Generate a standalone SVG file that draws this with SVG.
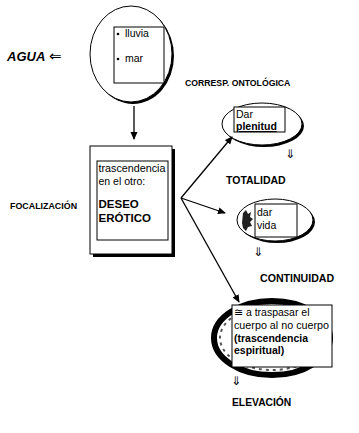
<svg xmlns="http://www.w3.org/2000/svg" width="359" height="433" viewBox="0 0 359 433">
<defs>
<style>
.t{font-family:"Liberation Sans",Arial,sans-serif;font-size:10.5px;fill:#000}
.b{font-weight:bold}
.lab{font-family:"Liberation Sans",Arial,sans-serif;font-weight:bold;fill:#000}
.arr{font-family:"DejaVu Sans",sans-serif;font-size:12px;fill:#000}
.box{fill:#fff;stroke:#000;stroke-width:1}
.ln{stroke:#000;stroke-width:1.3;fill:none}
</style>
<marker id="ah" markerWidth="8" markerHeight="8" refX="7" refY="4" orient="auto" markerUnits="userSpaceOnUse">
<path d="M0,0.5 L8,4 L0,7.5 Z" fill="#000"/>
</marker>
</defs>
<rect width="359" height="433" fill="#fff"/>

<g id="agua">
<text x="7" y="61" class="lab" style="font-size:13px;font-style:italic">AGUA</text>
<text x="49" y="61" class="arr" style="font-size:15px">⇐</text>
</g>

<g id="top-circle">
<ellipse cx="133" cy="56" rx="41" ry="48" fill="#000"/>
<ellipse cx="131" cy="54" rx="41" ry="48" class="box"/>
<rect x="114" y="27" width="50" height="56" class="box"/>
<circle cx="118" cy="34" r="1.3" fill="#000"/>
<text x="125" y="37" class="t">lluvia</text>
<circle cx="118" cy="59" r="1.3" fill="#000"/>
<text x="125" y="62" class="t">mar</text>
</g>

<text x="185" y="86" class="lab" style="font-size:8.7px">CORRESP. ONTOLÓGICA</text>

<g id="center-box">
<rect x="93" y="149" width="82" height="108" fill="#000"/>
<rect x="90" y="146" width="82" height="108" class="box"/>
<rect x="97" y="161" width="71" height="79" class="box"/>
<text x="98.5" y="172" class="t" textLength="67" lengthAdjust="spacingAndGlyphs">trascendencia</text>
<text x="98.5" y="185" class="t">en el otro:</text>
<text x="98.5" y="208" class="t b" style="font-size:11.5px">DESEO</text>
<text x="98.5" y="222" class="t b" style="font-size:11.5px">ERÓTICO</text>
</g>

<text x="10" y="209" class="lab" style="font-size:8.9px">FOCALIZACIÓN</text>

<g id="plenitud">
<ellipse cx="264" cy="126" rx="40" ry="21" fill="#000"/>
<ellipse cx="262" cy="124" rx="40" ry="21" class="box"/>
<rect x="234" y="107" width="51" height="25" class="box"/>
<text x="236" y="118" class="t">Dar</text>
<text x="236" y="130" class="t b" style="text-decoration:underline">plenitud</text>
</g>
<text x="285" y="158" class="arr">⇓</text>
<text x="226" y="184" class="lab" style="font-size:10.5px">TOTALIDAD</text>

<g id="vida">
<ellipse cx="277" cy="222" rx="38" ry="21" fill="#000"/>
<ellipse cx="275" cy="220" rx="38" ry="21" class="box"/>
<path d="M243,213 l3,-3 l2,4 l3,-2 l-1,5 l3,2 l-3,3 l2,4 l-4,1 l-2,4 l-3,-3 l-1,-5 z" fill="#222"/>
<rect x="255" y="204" width="42" height="33" class="box"/>
<text x="257" y="216" class="t">dar</text>
<text x="257" y="229" class="t">vida</text>
</g>
<text x="253" y="256" class="arr">⇓</text>
<text x="260" y="282" class="lab" style="font-size:10.6px">CONTINUIDAD</text>

<g id="traspasar">
<ellipse cx="272" cy="338" rx="58" ry="37" fill="#fff" stroke="#000" stroke-width="6"/>
<ellipse cx="272" cy="338" rx="52" ry="32" fill="none" stroke="#555" stroke-width="2" stroke-dasharray="3 4"/>
<rect x="232" y="305" width="100" height="62" class="box"/>
<text x="234" y="316" class="t">≅ a traspasar el</text>
<text x="234" y="329" class="t" textLength="95" lengthAdjust="spacingAndGlyphs">cuerpo al no cuerpo</text>
<text x="234" y="342" class="t b">(trascendencia</text>
<text x="234" y="354" class="t b">espiritual)</text>
</g>
<text x="231" y="385" class="arr">⇓</text>
<text x="232" y="406" class="lab" style="font-size:10.3px">ELEVACIÓN</text>

<g id="connectors">
<line x1="134" y1="106" x2="134" y2="139" class="ln" marker-end="url(#ah)"/>
<line x1="181" y1="198" x2="232" y2="137" class="ln" marker-end="url(#ah)"/>
<line x1="181" y1="198" x2="225" y2="213" class="ln" marker-end="url(#ah)"/>
<line x1="181" y1="198" x2="239" y2="302" class="ln" marker-end="url(#ah)"/>
</g>
</svg>
